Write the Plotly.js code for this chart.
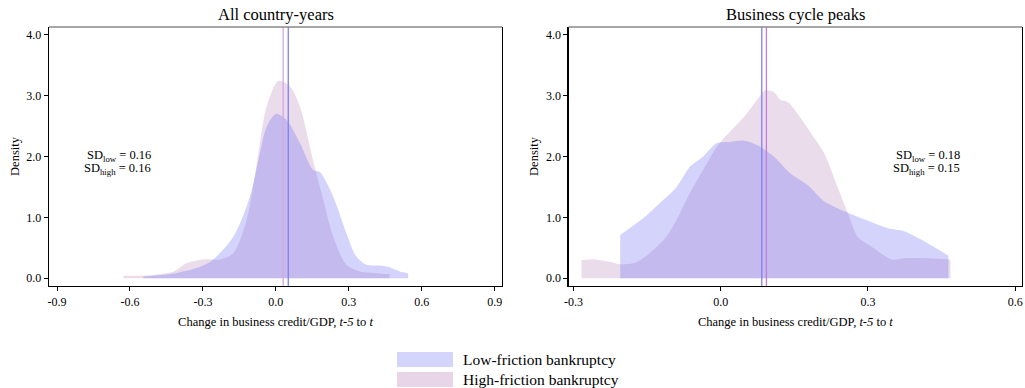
<!DOCTYPE html>
<html>
<head>
<meta charset="utf-8">
<script src="https://cdn.plot.ly/plotly-3.0.1.min.js"></script>
<style>html,body{margin:0;padding:0;background:#fff;}#chart{width:1025px;height:388px;}</style>
</head>
<body>
<div id="chart"></div>
<script>
// ---- Data: All country-years (left panel) ----
const allLowX  = [-0.545,-0.42,-0.31,-0.26,-0.175,-0.107,-0.066,-0.038,0.0,0.044,0.099,0.153,0.18,0.236,0.29,0.33,0.373,0.427,0.468,0.51,0.544];
const allLowY  = [0.03,0.08,0.19,0.30,0.68,1.34,2.05,2.49,2.70,2.60,2.22,1.78,1.75,1.34,0.74,0.36,0.22,0.21,0.18,0.11,0.08];
const allHighX = [-0.627,-0.518,-0.42,-0.367,-0.30,-0.23,-0.175,-0.12,-0.08,-0.038,0.01,0.058,0.099,0.153,0.195,0.236,0.29,0.345,0.427,0.468];
const allHighY = [0.04,0.05,0.11,0.25,0.31,0.31,0.41,0.96,1.84,2.82,3.24,3.15,2.82,1.94,1.29,0.68,0.22,0.11,0.08,0.07];
const allMeanLow = 0.051, allMeanHigh = 0.030;
const allSDLow = "0.16", allSDHigh = "0.16";

// ---- Data: Business cycle peaks (right panel) ----
const peakLowX  = [-0.205,-0.159,-0.125,-0.09,-0.063,-0.036,-0.008,0.019,0.047,0.074,0.108,0.142,0.177,0.211,0.238,0.279,0.314,0.341,0.375,0.41,0.444,0.464];
const peakLowY  = [0.71,0.98,1.23,1.50,1.83,2.00,2.22,2.24,2.26,2.19,2.00,1.72,1.53,1.26,1.15,1.01,0.90,0.82,0.77,0.63,0.47,0.37];
const peakHighX = [-0.284,-0.255,-0.227,-0.207,-0.173,-0.145,-0.111,-0.09,-0.063,-0.036,-0.008,0.019,0.047,0.074,0.091,0.108,0.122,0.136,0.156,0.184,0.211,0.238,0.259,0.279,0.307,0.348,0.375,0.423,0.468];
const peakHighY = [0.30,0.31,0.27,0.23,0.26,0.41,0.68,0.96,1.40,1.78,2.16,2.41,2.65,2.93,3.09,3.06,2.93,2.90,2.71,2.38,2.05,1.50,1.07,0.68,0.52,0.31,0.33,0.33,0.31];
const peakMeanLow = 0.0836, peakMeanHigh = 0.093;
const peakSDLow = "0.18", peakSDHigh = "0.15";

// ---- Labels ----
const panelTitles = ["All country-years", "Business cycle peaks"];
const legendLabels = ["Low-friction bankruptcy", "High-friction bankruptcy"];
const xTitle = "Change in business credit/GDP, <i>t-5</i> to <i>t</i>";
const yTitle = "Density";
const leftTickVals = [-0.9,-0.6,-0.3,0,0.3,0.6,0.9];
const leftTickText = ["-0.9","-0.6","-0.3","0.0","0.3","0.6","0.9"];
const rightTickVals = [-0.3,0,0.3,0.6];
const rightTickText = ["-0.3","0.0","0.3","0.6"];
const yTickVals = [0,1,2,3,4];
const yTickText = ["0.0","1.0","2.0","3.0","4.0"];

// ---- Styles ----
const FONT = "Liberation Serif, Times New Roman, serif";
const lowFill = "rgba(110,110,245,0.30)";
const highFill = "rgba(165,95,165,0.22)";
const lowLine = "#8080f4";
const highLineL = "#d7a8de";
const highLineR = "#c37ed6";

function area(x, y, fill, xa, ya) {
  return {x: x, y: y, xaxis: xa, yaxis: ya, type: "scatter", mode: "lines",
    line: {width: 0, shape: "spline", smoothing: 0.8}, fill: "tozeroy", fillcolor: fill,
    hoverinfo: "skip", showlegend: false};
}

const traces = [
  area(allHighX, allHighY, highFill, "x", "y"),
  area(allLowX, allLowY, lowFill, "x", "y"),
  area(peakHighX, peakHighY, highFill, "x2", "y2"),
  area(peakLowX, peakLowY, lowFill, "x2", "y2")
];

const yDom = [1 - 286/388, 1 - 27/388];
const xDomL = [49/1025, 502/1025];
const xDomR = [568.7/1025, 1022/1025];

function xaxisCfg(dom, range, tv, tt, anchor) {
  return {domain: dom, range: range, anchor: anchor, tickvals: tv, ticktext: tt,
    showline: true, linecolor: "#000", linewidth: 1.3, mirror: false,
    ticks: "outside", ticklen: 4, tickcolor: "#000", showgrid: false, zeroline: false,
    tickfont: {family: FONT, size: 12, color: "#000"},
    title: {text: xTitle, font: {family: FONT, size: 12.5, color: "#000"}, standoff: 9},
    automargin: false, fixedrange: true};
}
function yaxisCfg(anchor) {
  return {domain: yDom, range: [-0.127, 4.127], anchor: anchor, tickvals: yTickVals, ticktext: yTickText,
    showline: true, linecolor: "#000", linewidth: 1.3, mirror: true,
    ticks: "outside", ticklen: 4, tickcolor: "#000", showgrid: false, zeroline: false,
    tickfont: {family: FONT, size: 12, color: "#000"},
    title: {text: yTitle, font: {family: FONT, size: 12.5, color: "#000"}, standoff: 4},
    automargin: false, fixedrange: true};
}

function vline(xref, x, color) {
  return {type: "line", xref: xref, yref: "paper", x0: x, x1: x, y0: yDom[0], y1: yDom[1],
    line: {color: color, width: 1.3}};
}

const shapes = [
  vline("x", allMeanHigh, highLineL),
  vline("x", allMeanLow, lowLine),
  vline("x2", peakMeanLow, lowLine),
  vline("x2", peakMeanHigh, highLineR),
  {type: "line", xref: "paper", yref: "paper", x0: xDomL[0], x1: xDomL[1], y0: yDom[1], y1: yDom[1], line: {color: "#888", width: 1.6}},
  {type: "line", xref: "paper", yref: "paper", x0: xDomR[0], x1: xDomR[1], y0: yDom[1], y1: yDom[1], line: {color: "#888", width: 1.6}},
  // legend swatches
  {type: "rect", xref: "paper", yref: "paper", x0: 397/1025, x1: 453/1025, y0: 1-367/388, y1: 1-352/388, fillcolor: "#d5d5fb", line: {width: 0}},
  {type: "rect", xref: "paper", yref: "paper", x0: 397/1025, x1: 453/1025, y0: 1-387/388, y1: 1-372/388, fillcolor: "#e8d5e8", line: {width: 0}}
];

function txt(text, x, y, xref, yref, size, xanchor) {
  return {text: text, x: x, y: y, xref: xref, yref: yref, showarrow: false,
    xanchor: xanchor || "center", yanchor: "middle",
    font: {family: FONT, size: size, color: "#000"}};
}

const annotations = [
  txt(panelTitles[0], (xDomL[0]+xDomL[1])/2, 1-15/388, "paper", "paper", 16.5),
  txt(panelTitles[1], (xDomR[0]+xDomR[1])/2, 1-15/388, "paper", "paper", 16.5),
  txt("SD<sub>low</sub> = " + allSDLow, -0.505, 2.01, "x", "y", 12.5, "right"),
  txt("SD<sub>high</sub> = " + allSDHigh, -0.505, 1.80, "x", "y", 12.5, "right"),
  txt("SD<sub>low</sub> = " + peakSDLow, 0.492, 2.01, "x2", "y2", 12.5, "right"),
  txt("SD<sub>high</sub> = " + peakSDHigh, 0.492, 1.80, "x2", "y2", 12.5, "right"),
  txt(legendLabels[0], 461/1025, 1-359.5/388, "paper", "paper", 15.5, "left"),
  txt(legendLabels[1], 461/1025, 1-379.5/388, "paper", "paper", 15.5, "left")
];

const layout = {
  width: 1025, height: 388,
  margin: {l: 0, r: 0, t: 0, b: 0},
  paper_bgcolor: "#fff", plot_bgcolor: "#fff",
  showlegend: false,
  xaxis: xaxisCfg(xDomL, [-0.933, 0.93], leftTickVals, leftTickText, "y"),
  yaxis: yaxisCfg("x"),
  xaxis2: xaxisCfg(xDomR, [-0.31, 0.614], rightTickVals, rightTickText, "y2"),
  yaxis2: yaxisCfg("x2"),
  shapes: shapes,
  annotations: annotations
};

Plotly.newPlot("chart", traces, layout, {displayModeBar: false, staticPlot: true});
</script>
</body>
</html>
